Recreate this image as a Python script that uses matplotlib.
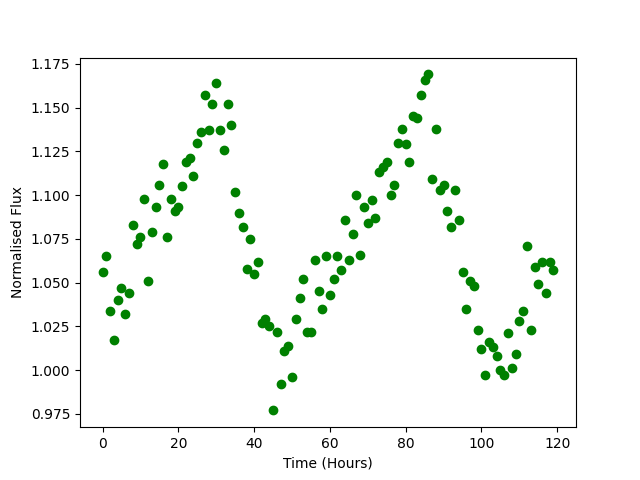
import matplotlib
matplotlib.use("Agg")
import matplotlib.pyplot as plt
import numpy as np

hours = list(range(120))
flux = [
    1.056, 1.065, 1.034, 1.017, 1.040, 1.047, 1.032, 1.044, 1.083, 1.072,
    1.076, 1.098, 1.051, 1.079, 1.093, 1.106, 1.118, 1.076, 1.098, 1.091,
    1.093, 1.105, 1.119, 1.121, 1.111, 1.130, 1.136, 1.157, 1.137, 1.152,
    1.164, 1.137, 1.126, 1.152, 1.140, 1.102, 1.090, 1.082, 1.058, 1.075,
    1.055, 1.062, 1.027, 1.029, 1.025, 0.977, 1.022, 0.992, 1.011, 1.014,
    0.996, 1.029, 1.041, 1.052, 1.022, 1.022, 1.063, 1.045, 1.035, 1.065,
    1.043, 1.052, 1.065, 1.057, 1.086, 1.063, 1.078, 1.100, 1.066, 1.093,
    1.084, 1.097, 1.087, 1.113, 1.116, 1.119, 1.100, 1.106, 1.130, 1.138,
    1.129, 1.119, 1.145, 1.144, 1.157, 1.166, 1.169, 1.109, 1.138, 1.103,
    1.106, 1.091, 1.082, 1.103, 1.086, 1.056, 1.035, 1.051, 1.048, 1.023,
    1.012, 0.997, 1.016, 1.013, 1.008, 1.000, 0.997, 1.021, 1.001, 1.009,
    1.028, 1.034, 1.071, 1.023, 1.059, 1.049, 1.062, 1.044, 1.062, 1.057,
]

fig, ax = plt.subplots(figsize=(6.4, 4.8), dpi=100)
ax.plot(hours, flux, 'o', color='green')
ax.set_xlabel('Time (Hours)')
ax.set_ylabel('Normalised Flux')
fig.savefig('out.png')
